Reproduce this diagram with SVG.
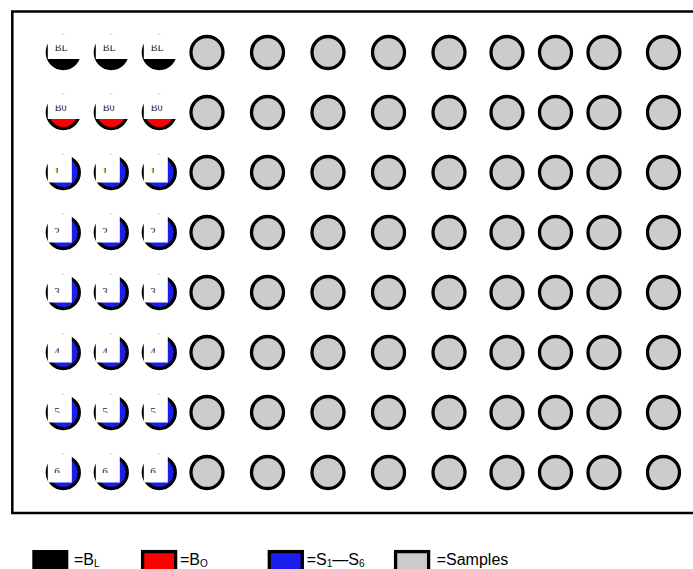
<svg xmlns="http://www.w3.org/2000/svg" width="693" height="569" viewBox="0 0 693 569">
<style>
.g{fill:#cccccc;stroke:#000;stroke-width:3.3}
.k{fill:#000;stroke:#000;stroke-width:3.3}
.r{fill:#ff0000;stroke:#000;stroke-width:3.3}
.b{fill:#1c1cec;stroke:#000;stroke-width:3.3}
.m{fill:#fff}
.tk{stroke:#c8c8c8;stroke-width:1}
.tr{stroke:#e8b8b8;stroke-width:1}
.tb{stroke:#b8b8e8;stroke-width:1}
.lb{font-family:"Liberation Serif",serif;font-size:10px;fill:#222}
.ln{font-family:"Liberation Serif",serif;font-size:11px;fill:#222}
.lg{font-family:"Liberation Sans",Arial,sans-serif;font-size:16px;fill:#000}
.sub{font-size:10px}
.frame{fill:none;stroke:#000;stroke-width:2.5}
</style>
<defs>
<clipPath id="cb"><rect x="-10" y="-7.2" width="22" height="8"/></clipPath>
<clipPath id="cn"><rect x="-10" y="-6.8" width="14" height="7.3"/></clipPath>
<g id="wk"><circle class="k" r="16"/><rect class="m" x="-15.5" y="-20" width="36" height="26.5"/><line class="tk" x1="-1" y1="-18.5" x2="1" y2="-18.5"/></g>
<g id="wr"><circle class="r" r="16"/><rect class="m" x="-15.5" y="-20" width="36" height="26.5"/><line class="tr" x1="-1" y1="-18.5" x2="1" y2="-18.5"/></g>
<g id="wb"><circle class="b" r="16"/><rect class="m" x="-15.5" y="-20" width="24" height="30"/><line class="tb" x1="-1" y1="-18.5" x2="1" y2="-18.5"/></g>
</defs>
<rect class="frame" x="12.3" y="11.5" width="700" height="501.5"/>
<g id="wells-colored">
<g id="A1" transform="translate(63.3,52.5)"><use href="#wk"/><text class="lb" x="-8.5" y="-1.5" clip-path="url(#cb)">BL</text></g>
<g id="A2" transform="translate(111.3,52.5)"><use href="#wk"/><text class="lb" x="-8.5" y="-1.5" clip-path="url(#cb)">BL</text></g>
<g id="A3" transform="translate(159.3,52.5)"><use href="#wk"/><text class="lb" x="-8.5" y="-1.5" clip-path="url(#cb)">BL</text></g>
<g id="B1" transform="translate(63.3,112.5)"><use href="#wr"/><text class="lb" x="-8.5" y="-1.5" clip-path="url(#cb)">B0</text></g>
<g id="B2" transform="translate(111.3,112.5)"><use href="#wr"/><text class="lb" x="-8.5" y="-1.5" clip-path="url(#cb)">B0</text></g>
<g id="B3" transform="translate(159.3,112.5)"><use href="#wr"/><text class="lb" x="-8.5" y="-1.5" clip-path="url(#cb)">B0</text></g>
<g id="C1" transform="translate(63.3,172.5)"><use href="#wb"/><text class="ln" x="-9" y="2" clip-path="url(#cn)">1</text></g>
<g id="C2" transform="translate(111.3,172.5)"><use href="#wb"/><text class="ln" x="-9" y="2" clip-path="url(#cn)">1</text></g>
<g id="C3" transform="translate(159.3,172.5)"><use href="#wb"/><text class="ln" x="-9" y="2" clip-path="url(#cn)">1</text></g>
<g id="D1" transform="translate(63.3,232.5)"><use href="#wb"/><text class="ln" x="-9" y="2" clip-path="url(#cn)">2</text></g>
<g id="D2" transform="translate(111.3,232.5)"><use href="#wb"/><text class="ln" x="-9" y="2" clip-path="url(#cn)">2</text></g>
<g id="D3" transform="translate(159.3,232.5)"><use href="#wb"/><text class="ln" x="-9" y="2" clip-path="url(#cn)">2</text></g>
<g id="E1" transform="translate(63.3,292.5)"><use href="#wb"/><text class="ln" x="-9" y="2" clip-path="url(#cn)">3</text></g>
<g id="E2" transform="translate(111.3,292.5)"><use href="#wb"/><text class="ln" x="-9" y="2" clip-path="url(#cn)">3</text></g>
<g id="E3" transform="translate(159.3,292.5)"><use href="#wb"/><text class="ln" x="-9" y="2" clip-path="url(#cn)">3</text></g>
<g id="F1" transform="translate(63.3,352.5)"><use href="#wb"/><text class="ln" x="-9" y="2" clip-path="url(#cn)">4</text></g>
<g id="F2" transform="translate(111.3,352.5)"><use href="#wb"/><text class="ln" x="-9" y="2" clip-path="url(#cn)">4</text></g>
<g id="F3" transform="translate(159.3,352.5)"><use href="#wb"/><text class="ln" x="-9" y="2" clip-path="url(#cn)">4</text></g>
<g id="G1" transform="translate(63.3,412.5)"><use href="#wb"/><text class="ln" x="-9" y="2" clip-path="url(#cn)">5</text></g>
<g id="G2" transform="translate(111.3,412.5)"><use href="#wb"/><text class="ln" x="-9" y="2" clip-path="url(#cn)">5</text></g>
<g id="G3" transform="translate(159.3,412.5)"><use href="#wb"/><text class="ln" x="-9" y="2" clip-path="url(#cn)">5</text></g>
<g id="H1" transform="translate(63.3,472.5)"><use href="#wb"/><text class="ln" x="-9" y="2" clip-path="url(#cn)">6</text></g>
<g id="H2" transform="translate(111.3,472.5)"><use href="#wb"/><text class="ln" x="-9" y="2" clip-path="url(#cn)">6</text></g>
<g id="H3" transform="translate(159.3,472.5)"><use href="#wb"/><text class="ln" x="-9" y="2" clip-path="url(#cn)">6</text></g>
</g>
<g id="wells-samples">
<g id="A4"><circle class="g" cx="207" cy="52.5" r="16"/></g><g id="A5"><circle class="g" cx="267.5" cy="52.5" r="16"/></g><g id="A6"><circle class="g" cx="328" cy="52.5" r="16"/></g><g id="A7"><circle class="g" cx="388.5" cy="52.5" r="16"/></g><g id="A8"><circle class="g" cx="449" cy="52.5" r="16"/></g><g id="A9"><circle class="g" cx="507" cy="52.5" r="16"/></g><g id="A10"><circle class="g" cx="555.5" cy="52.5" r="16"/></g><g id="A11"><circle class="g" cx="604" cy="52.5" r="16"/></g><g id="A12"><circle class="g" cx="663.5" cy="52.5" r="16"/></g>
<g id="B4"><circle class="g" cx="207" cy="112.5" r="16"/></g><g id="B5"><circle class="g" cx="267.5" cy="112.5" r="16"/></g><g id="B6"><circle class="g" cx="328" cy="112.5" r="16"/></g><g id="B7"><circle class="g" cx="388.5" cy="112.5" r="16"/></g><g id="B8"><circle class="g" cx="449" cy="112.5" r="16"/></g><g id="B9"><circle class="g" cx="507" cy="112.5" r="16"/></g><g id="B10"><circle class="g" cx="555.5" cy="112.5" r="16"/></g><g id="B11"><circle class="g" cx="604" cy="112.5" r="16"/></g><g id="B12"><circle class="g" cx="663.5" cy="112.5" r="16"/></g>
<g id="C4"><circle class="g" cx="207" cy="172.5" r="16"/></g><g id="C5"><circle class="g" cx="267.5" cy="172.5" r="16"/></g><g id="C6"><circle class="g" cx="328" cy="172.5" r="16"/></g><g id="C7"><circle class="g" cx="388.5" cy="172.5" r="16"/></g><g id="C8"><circle class="g" cx="449" cy="172.5" r="16"/></g><g id="C9"><circle class="g" cx="507" cy="172.5" r="16"/></g><g id="C10"><circle class="g" cx="555.5" cy="172.5" r="16"/></g><g id="C11"><circle class="g" cx="604" cy="172.5" r="16"/></g><g id="C12"><circle class="g" cx="663.5" cy="172.5" r="16"/></g>
<g id="D4"><circle class="g" cx="207" cy="232.5" r="16"/></g><g id="D5"><circle class="g" cx="267.5" cy="232.5" r="16"/></g><g id="D6"><circle class="g" cx="328" cy="232.5" r="16"/></g><g id="D7"><circle class="g" cx="388.5" cy="232.5" r="16"/></g><g id="D8"><circle class="g" cx="449" cy="232.5" r="16"/></g><g id="D9"><circle class="g" cx="507" cy="232.5" r="16"/></g><g id="D10"><circle class="g" cx="555.5" cy="232.5" r="16"/></g><g id="D11"><circle class="g" cx="604" cy="232.5" r="16"/></g><g id="D12"><circle class="g" cx="663.5" cy="232.5" r="16"/></g>
<g id="E4"><circle class="g" cx="207" cy="292.5" r="16"/></g><g id="E5"><circle class="g" cx="267.5" cy="292.5" r="16"/></g><g id="E6"><circle class="g" cx="328" cy="292.5" r="16"/></g><g id="E7"><circle class="g" cx="388.5" cy="292.5" r="16"/></g><g id="E8"><circle class="g" cx="449" cy="292.5" r="16"/></g><g id="E9"><circle class="g" cx="507" cy="292.5" r="16"/></g><g id="E10"><circle class="g" cx="555.5" cy="292.5" r="16"/></g><g id="E11"><circle class="g" cx="604" cy="292.5" r="16"/></g><g id="E12"><circle class="g" cx="663.5" cy="292.5" r="16"/></g>
<g id="F4"><circle class="g" cx="207" cy="352.5" r="16"/></g><g id="F5"><circle class="g" cx="267.5" cy="352.5" r="16"/></g><g id="F6"><circle class="g" cx="328" cy="352.5" r="16"/></g><g id="F7"><circle class="g" cx="388.5" cy="352.5" r="16"/></g><g id="F8"><circle class="g" cx="449" cy="352.5" r="16"/></g><g id="F9"><circle class="g" cx="507" cy="352.5" r="16"/></g><g id="F10"><circle class="g" cx="555.5" cy="352.5" r="16"/></g><g id="F11"><circle class="g" cx="604" cy="352.5" r="16"/></g><g id="F12"><circle class="g" cx="663.5" cy="352.5" r="16"/></g>
<g id="G4"><circle class="g" cx="207" cy="412.5" r="16"/></g><g id="G5"><circle class="g" cx="267.5" cy="412.5" r="16"/></g><g id="G6"><circle class="g" cx="328" cy="412.5" r="16"/></g><g id="G7"><circle class="g" cx="388.5" cy="412.5" r="16"/></g><g id="G8"><circle class="g" cx="449" cy="412.5" r="16"/></g><g id="G9"><circle class="g" cx="507" cy="412.5" r="16"/></g><g id="G10"><circle class="g" cx="555.5" cy="412.5" r="16"/></g><g id="G11"><circle class="g" cx="604" cy="412.5" r="16"/></g><g id="G12"><circle class="g" cx="663.5" cy="412.5" r="16"/></g>
<g id="H4"><circle class="g" cx="207" cy="472.5" r="16"/></g><g id="H5"><circle class="g" cx="267.5" cy="472.5" r="16"/></g><g id="H6"><circle class="g" cx="328" cy="472.5" r="16"/></g><g id="H7"><circle class="g" cx="388.5" cy="472.5" r="16"/></g><g id="H8"><circle class="g" cx="449" cy="472.5" r="16"/></g><g id="H9"><circle class="g" cx="507" cy="472.5" r="16"/></g><g id="H10"><circle class="g" cx="555.5" cy="472.5" r="16"/></g><g id="H11"><circle class="g" cx="604" cy="472.5" r="16"/></g><g id="H12"><circle class="g" cx="663.5" cy="472.5" r="16"/></g>
</g>
<g id="legend">
<g id="leg-bl"><rect x="32.3" y="550" width="36" height="22" fill="#000"/><text class="lg" x="74" y="565">=B<tspan class="sub" dy="1.5">L</tspan></text></g>
<g id="leg-bo"><rect class="r" x="142.6" y="551.6" width="33" height="22"/><text class="lg" x="180" y="565">=B<tspan class="sub" dy="1.5">O</tspan></text></g>
<g id="leg-s"><rect class="b" x="269.3" y="551.6" width="33" height="22"/><text class="lg" x="306.7" y="565">=S<tspan class="sub" dy="1.5">1</tspan><tspan dy="-1.5">—S</tspan><tspan class="sub" dy="1.5">6</tspan></text></g>
<g id="leg-samples"><rect class="g" x="395.6" y="551.6" width="33" height="22"/><text class="lg" x="436.7" y="565">=Samples</text></g>
</g>
</svg>
